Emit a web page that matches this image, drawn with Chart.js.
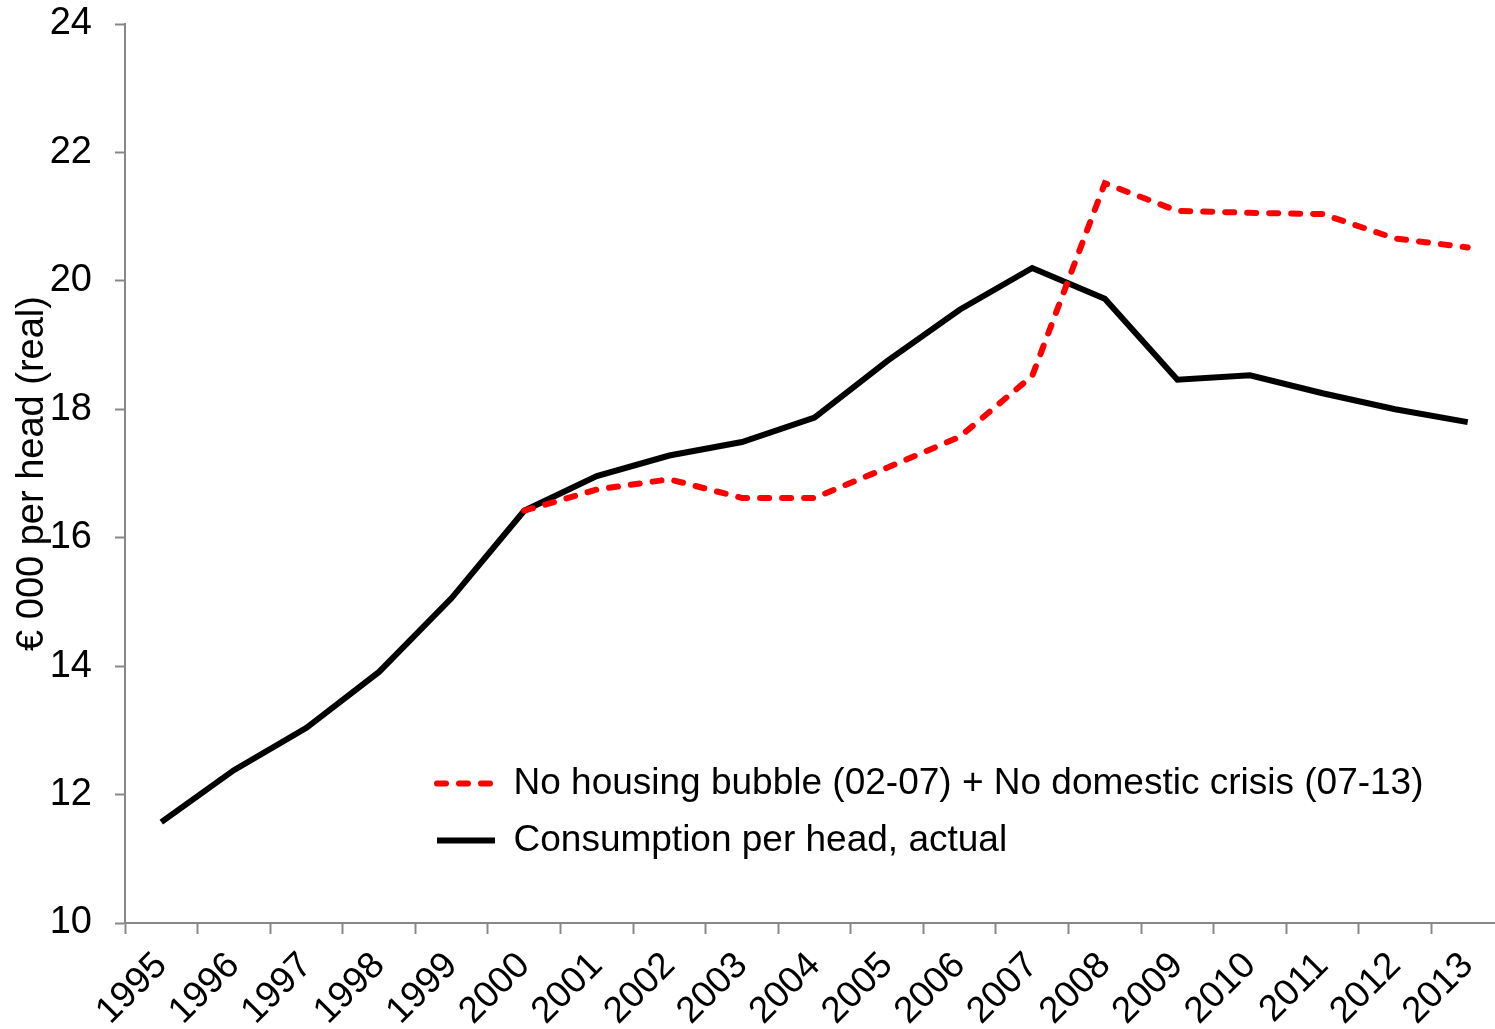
<!DOCTYPE html>
<html>
<head>
<meta charset="utf-8">
<title>Consumption per head</title>
<script src="https://cdn.jsdelivr.net/npm/chart.js@4.4.1/dist/chart.umd.min.js"></script>
<style>
  html, body { margin: 0; padding: 0; background: #fff; overflow: hidden; }
  /* the plot runs a little past the right edge of the window, as in the original */
  #wrap { position: relative; width: 1520px; height: 1029px; }
</style>
</head>
<body>
<div id="wrap"><canvas id="consumptionChart"></canvas></div>
<script>
// Years on the x axis
const years = ["1995", "1996", "1997", "1998", "1999", "2000", "2001", "2002", "2003", "2004",
  "2005", "2006", "2007", "2008", "2009", "2010", "2011", "2012", "2013"];

// € 000 per head (real)
const noBubbleNoCrisis = [null, null, null, null, null, 16.42, 16.75, 16.91, 16.62, 16.62,
  17.09, 17.57, 18.52, 21.52, 21.09, 21.06, 21.04, 20.66, 20.52];
const actualConsumption = [11.57, 12.38, 13.04, 13.91, 15.06, 16.42, 16.96, 17.28, 17.49, 17.87,
  18.75, 19.55, 20.20, 19.72, 18.46, 18.53, 18.25, 18.00, 17.80];

const seriesLabels = ["No housing bubble (02-07) + No domestic crisis (07-13)", "Consumption per head, actual"];
const yAxisTitle = "€ 000 per head (real)";

const FONT = "'Liberation Sans', Arial, sans-serif";
const AXIS_GREY = "#888888";

// Moves the legend into the lower part of the plot area
const legendMover = {
  id: "legendMover",
  afterLayout(chart) {
    const lg = chart.legend;
    const w = lg.width;
    const h = lg.height;
    lg.left = 417;
    lg.top = 745;
    lg.right = lg.left + w;
    lg.bottom = lg.top + h;
  },
};

// Legend samples keep the dash of their line
function legendLabels(chart) {
  const items = Chart.defaults.plugins.legend.labels.generateLabels(chart);
  items.forEach((item) => {
    const ds = chart.data.datasets[item.datasetIndex];
    item.lineDash = ds.borderDash || [];
    item.lineCap = ds.borderCapStyle || "butt";
    item.lineWidth = ds.borderWidth;
    item.strokeStyle = ds.borderColor;
  });
  return items;
}

function createChart() {
  const ctx = document.getElementById("consumptionChart").getContext("2d");

  new Chart(ctx, {
    type: "line",
    data: {
      labels: years,
      datasets: [
        {
          label: seriesLabels[0],
          data: noBubbleNoCrisis,
          borderColor: "#ff0000",
          backgroundColor: "#ff0000",
          borderWidth: 6,
          borderDash: [9, 13],
          borderCapStyle: "round",
          pointRadius: 0,
          tension: 0,
        },
        {
          label: seriesLabels[1],
          data: actualConsumption,
          borderColor: "#000000",
          backgroundColor: "#000000",
          borderWidth: 6,
          pointRadius: 0,
          tension: 0,
        },
      ],
    },
    options: {
      responsive: true,
      maintainAspectRatio: false,
      animation: false,
      layout: {
        padding: { top: 0, right: 16, left: 0, bottom: 0 },
      },
      plugins: {
        legend: {
          position: "chartArea",
          align: "start",
          labels: {
            color: "#000",
            font: { family: FONT, size: 37 },
            usePointStyle: true,
            pointStyle: "line",
            pointStyleWidth: 58,
            boxWidth: 58,
            padding: 20,
            generateLabels: legendLabels,
          },
        },
        title: { display: false },
        tooltip: { enabled: false },
      },
      scales: {
        x: {
          offset: true,
          afterFit(scale) {
            scale.height = 106;
          },
          grid: {
            offset: true,
            drawOnChartArea: false,
            drawTicks: true,
            tickLength: 11,
            tickWidth: 2,
            tickColor: AXIS_GREY,
          },
          border: { display: true, color: AXIS_GREY, width: 2 },
          ticks: {
            autoSkip: false,
            maxRotation: 45,
            minRotation: 45,
            padding: 10,
            color: "#000",
            font: { family: FONT, size: 37 },
          },
        },
        y: {
          min: 10,
          max: 24,
          afterFit(scale) {
            scale.width = 125;
            // top label sits half out of the plot, as in the original
            scale.paddingTop = 24;
          },
          grid: {
            drawOnChartArea: false,
            drawTicks: true,
            tickLength: 10,
            tickWidth: 2,
            tickColor: AXIS_GREY,
          },
          border: { display: true, color: AXIS_GREY, width: 2 },
          ticks: {
            stepSize: 2,
            padding: 23,
            color: "#000",
            font: { family: FONT, size: 38 },
          },
          title: {
            display: true,
            text: yAxisTitle,
            color: "#000",
            padding: { top: 10, bottom: 0 },
            font: { family: FONT, size: 38 },
          },
        },
      },
    },
    plugins: [legendMover],
  });
}

document.addEventListener("DOMContentLoaded", createChart);
</script>
</body>
</html>
